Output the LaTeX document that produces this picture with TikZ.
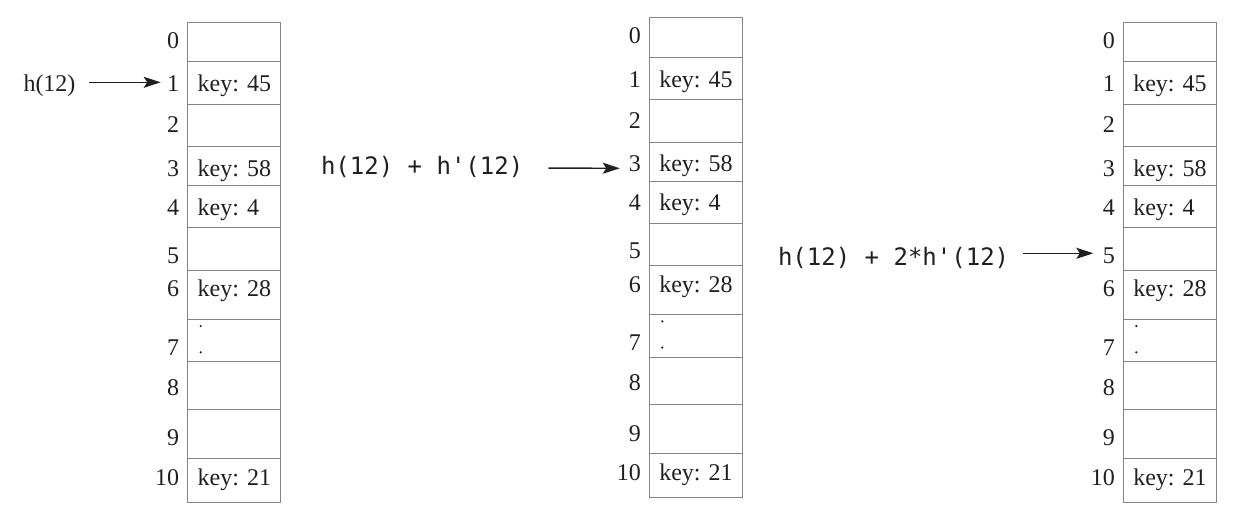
\documentclass[tikz,border=0pt]{standalone}
\usepackage{fontspec}
\setmainfont{Liberation Serif}
\newfontfamily\codefont{DejaVu Sans Mono}
\usetikzlibrary{arrows.meta}
\definecolor{ink}{HTML}{231F20}
\definecolor{rulec}{HTML}{858585}
\tikzset{
  cell/.style={draw=rulec, line width=0.9pt, minimum width=93pt, anchor=north west, inner sep=0pt, outer sep=0pt},
  txt/.style={inner sep=0pt, outer sep=0pt, text height=14pt, text depth=0pt, text=ink, font=\fontsize{24}{28}\selectfont},
  idx/.style={txt, anchor=base east},
  keytext/.style={txt, anchor=base west},
  code/.style={txt, anchor=base west, font=\codefont\fontsize{24}{28}\selectfont},
  link/.style={draw=ink, line width=1.4pt, -{Stealth[length=17pt,width=11pt,inset=3.5pt]}},
  dotmark/.style={circle, fill=ink, inner sep=0pt, minimum size=2.4pt}
}
\begin{document}
\begin{tikzpicture}[x=1pt,y=-1pt]
\useasboundingbox[fill=white] (0,0) rectangle (1246,528);
\foreach \t/\x/\dy in {A/187.7/0, B/649.3/-4.7, C/1123.3/0} {
  \foreach \i/\top/\bot/\base in {0/22.3/61.7/48.3, 1/61.7/104.3/91.7, 2/104.3/146.7/132.7, 3/146.7/185.7/176, 4/185.7/227.7/215, 5/227.7/270/263.3, 6/270/319.3/296.7, 7/319.3/361.7/355, 8/361.7/409/395, 9/409/458/445.7, 10/458/502.3/485.5} {
    \node[cell, minimum height={\bot-\top}] (\t c\i) at (\x, \top+\dy) {};
    \node[idx] (\t l\i) at (\x-8.5, \base+\dy) {\i};
  }
  \foreach \i/\base/\k in {1/91.7/45, 3/176/58, 4/215/4, 6/296.7/28, 10/485.5/21} {
    \node[keytext] (\t k\i) at (\x+10, \base+\dy) {key: \k};
  }
  \node[dotmark] (\t d1) at (\x+13, 326+\dy) {};
  \node[dotmark] (\t d2) at (\x+13, 352.3+\dy) {};
}
\node[txt, anchor=base west] (s1) at (23.5, 91.7) {h(12)};
\node[code] (s2) at (321, 174) {h(12) + h'(12)};
\node[code] (s3) at (778, 265) {h(12) + 2*h'(12)};
\draw[link, shorten <=14pt, shorten >=6.5pt] ([yshift=2.4pt]s1.east) -- ([yshift=2.4pt]Al1.west);
\draw[link, shorten <=25pt, shorten >=9pt] ([yshift=-1pt]s2.east) -- ([yshift=-4pt]Bl3.west);
\draw[link, shorten <=14pt, shorten >=9.5pt] ([yshift=4.7pt]s3.east) -- ([yshift=3pt]Cl5.west);
\end{tikzpicture}
\end{document}
